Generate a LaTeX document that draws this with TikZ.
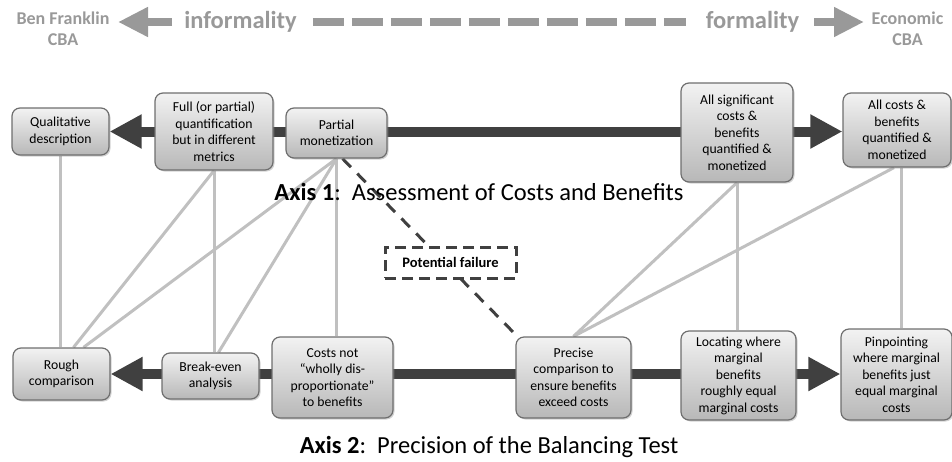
\documentclass[tikz,border=0pt]{standalone}
\usepackage{fontspec}
\setmainfont{Carlito}
\usetikzlibrary{arrows.meta,shadows,backgrounds}
\definecolor{axisgray}{HTML}{404040}
\definecolor{hdrgray}{HTML}{999999}
\definecolor{linkgray}{HTML}{C0C0C0}
\definecolor{boxedge}{HTML}{6E6E6E}
\begin{document}
\begin{tikzpicture}[x=1pt,y=-1pt,
  box/.style={draw=boxedge, line width=1.2pt, rounded corners=8pt,
    top color=black!5, bottom color=black!28, align=center, inner sep=2pt,
    font=\fontsize{13.7}{16.5}\selectfont,
    drop shadow={opacity=0.35, shadow xshift=1.5pt, shadow yshift=-1.5pt}},
  hdrtext/.style={text=hdrgray, font=\bfseries\fontsize{18}{21}\selectfont, align=center, inner sep=0pt, anchor=north},
  hdrword/.style={text=hdrgray, font=\bfseries\fontsize{24.5}{28}\selectfont, inner sep=0pt, anchor=base},
  hdrarrow/.style={draw=hdrgray, line width=8pt, -{Triangle[length=30pt,width=28pt]}},
  hdrdash/.style={draw=hdrgray, line width=8pt, dash pattern=on 31pt off 8pt},
  axisarrow/.style={draw=axisgray, line width=10pt,
    {Triangle[length=32pt,width=32pt]}-{Triangle[length=32pt,width=32pt]}},
  link/.style={draw=linkgray, line width=3pt},
  failline/.style={draw=axisgray, line width=3pt, dash pattern=on 12pt off 9pt},
  failbox/.style={draw=axisgray, line width=3pt, dash pattern=on 11pt off 6pt, fill=white,
    font=\bfseries\fontsize{14.5}{17}\selectfont, minimum width=131pt, minimum height=31pt},
  axislabel/.style={font=\fontsize{24.5}{28}\selectfont, inner sep=0pt, anchor=base}]
\useasboundingbox (0,0) rectangle (952,461);
% header
\node[hdrtext] (franklin) at (63,12) {Ben Franklin\\CBA};
\node[hdrtext] (econ) at (907.5,12) {Economic\\CBA};
\node[hdrword] (infor) at (240.5,28) {informality};
\node[hdrword] (formal) at (752.5,28) {formality};
\coordinate (bftip) at (118,22);
\coordinate (ectip) at (864,22);
\draw[hdrarrow, shorten <=12pt] (infor.west |- bftip) -- (bftip);
\draw[hdrdash, shorten <=16pt, shorten >=20pt] (infor.east |- bftip) -- (formal.west |- ectip);
\draw[hdrarrow, shorten <=15pt] (formal.east |- ectip) -- (ectip);
% axis 1
\node[box, minimum width=97pt, minimum height=47pt] (qual) at (60.5,131.5) {Qualitative\\description};
\node[box, minimum width=118pt, minimum height=77pt] (full) at (214,131.5) {Full (or partial)\\quantification\\but in different\\metrics};
\node[box, minimum width=101pt, minimum height=50pt] (partial) at (336.5,133) {Partial\\monetization};
\node[box, minimum width=112pt, minimum height=99pt] (allsig) at (737,132.5) {All significant\\costs \&\\benefits\\quantified \&\\monetized};
\node[box, minimum width=108pt, minimum height=74pt] (allcosts) at (897,130) {All costs \&\\benefits\\quantified \&\\monetized};
\node[axislabel] (axisone) at (479,200) {\textbf{Axis 1}:\ \ Assessment of Costs and Benefits};
% axis 2
\node[box, minimum width=97pt, minimum height=52pt] (rough) at (61.5,374) {Rough\\comparison};
\node[box, minimum width=97pt, minimum height=46pt] (breakeven) at (210.5,376) {Break-even\\analysis};
\node[box, minimum width=121pt, minimum height=81pt] (costsnot) at (332.5,377.5) {Costs not\\“wholly dis-\\proportionate”\\to benefits};
\node[box, minimum width=115pt, minimum height=81pt] (precise) at (573.5,377.5) {Precise\\comparison to\\ensure benefits\\exceed costs};
\node[box, minimum width=115pt, minimum height=89pt] (locating) at (738.5,375.5) {Locating where\\marginal\\benefits\\roughly equal\\marginal costs};
\node[box, minimum width=111pt, minimum height=91pt] (pinpoint) at (896.5,374.5) {Pinpointing\\where marginal\\benefits just\\equal marginal\\costs};
\node[axislabel] (axistwo) at (489,453) {\textbf{Axis 2}:\ \ Precision of the Balancing Test};
\node[failbox] (failure) at (450.5,262.5) {Potential failure};
\begin{scope}[on background layer]
\draw[axisarrow] (qual.east) -- (qual.east -| allcosts.west);
\draw[axisarrow] (rough.east) -- (rough.east -| pinpoint.west);
\draw[link] (qual.south) -- (qual.south |- rough.north);
\draw[link] (full.south) -- ([xshift=12pt]rough.north);
\draw[link] (full.south) -- (full.south |- breakeven.north);
\draw[link] (partial.south) -- ([xshift=22pt]rough.north);
\draw[link] (partial.south) -- ([xshift=8pt]breakeven.north);
\draw[link] (partial.south) -- (partial.south |- costsnot.north);
\draw[link] (allsig.south) -- (allsig.south |- locating.north);
\draw[link] (allsig.south) -- (precise.north);
\draw[link] ([xshift=-3pt]allcosts.south) -- (precise.north);
\draw[link] ([xshift=4pt]allcosts.south) -- ([xshift=4pt]allcosts.south |- pinpoint.north);
\draw[failline] ([xshift=6pt]partial.south) -- ([xshift=2pt]precise.north west);
\end{scope}
\end{tikzpicture}
\end{document}
